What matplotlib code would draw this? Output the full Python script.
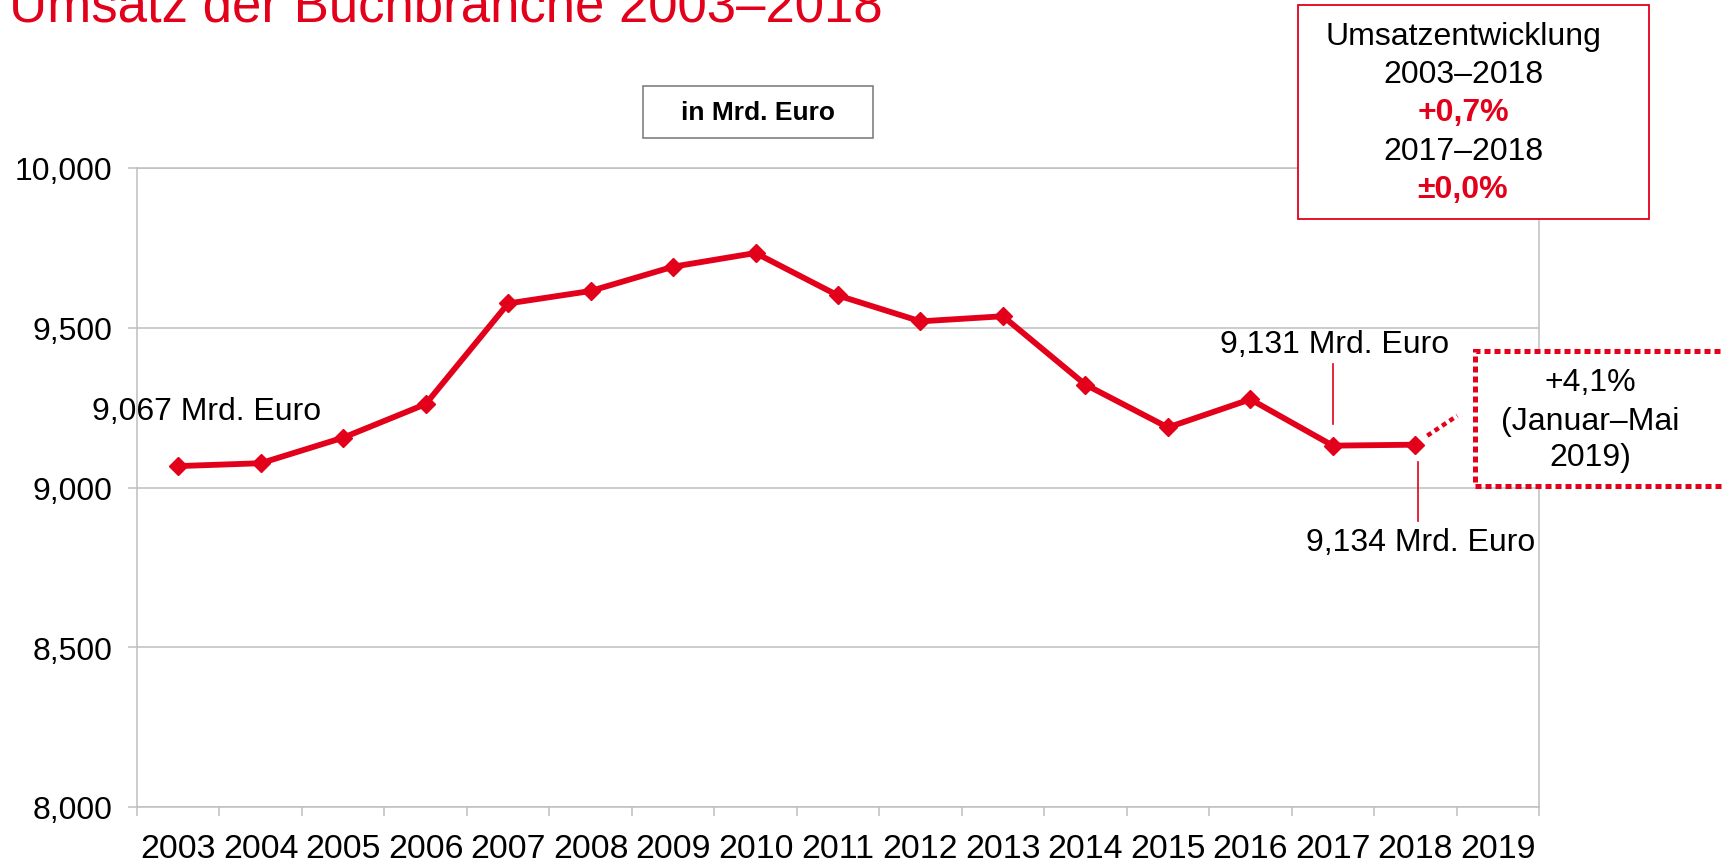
import matplotlib
matplotlib.use("Agg")
import matplotlib.pyplot as plt
from matplotlib.patches import Rectangle
import numpy as np

plt.rcParams['font.family'] = ['Liberation Sans', 'DejaVu Sans']

years = ["2003", "2004", "2005", "2006", "2007", "2008", "2009", "2010", "2011",
         "2012", "2013", "2014", "2015", "2016", "2017", "2018", "2019"]
umsatz = [9.067, 9.076, 9.156, 9.261, 9.576, 9.615, 9.691, 9.734, 9.601,
          9.520, 9.536, 9.322, 9.188, 9.276, 9.131, 9.134]
yticks = [8.0, 8.5, 9.0, 9.5, 10.0]

RED = "#E2001A"
GRID = "#BFBFBF"
W, H = 1722, 862
DPI = 100
FS = 23

fig = plt.figure(figsize=(W / DPI, H / DPI), dpi=DPI)
ax = fig.add_axes([137 / W, 1 - 808 / H, (1539 - 137) / W, (808 - 169) / H])

n = len(years)
x = np.arange(len(umsatz))
ax.plot(x, umsatz, color=RED, lw=4.2, marker="D", ms=9.5, zorder=5, clip_on=False)

ax.set_xlim(-0.5, n - 0.5)
ax.set_ylim(yticks[0], yticks[-1])

# y axis
ax.set_yticks(yticks)
ax.set_yticklabels([f"{v:.3f}".replace(".", ",") for v in yticks], fontsize=FS)
ax.yaxis.grid(True, color=GRID, lw=1.1)
ax.tick_params(axis="y", length=6.5, width=1.1, color=GRID, pad=11)

# x axis: ticks between categories, labels centered
ax.set_xticks(np.arange(-0.5, n, 1.0))
ax.set_xticklabels([])
ax.set_xticks(np.arange(n), minor=True)
ax.set_xticklabels(years, minor=True, fontsize=24.4)
ax.tick_params(axis="x", which="major", length=6.5, width=1.1, color=GRID)
ax.tick_params(axis="x", which="minor", length=0, pad=19)

for s in ["left", "bottom", "right", "top"]:
    ax.spines[s].set_color(GRID)
    ax.spines[s].set_linewidth(1.1)
ax.set_axisbelow(True)


def fmt(v):
    return f"{v:.3f}".replace(".", ",") + " Mrd. Euro"


def offset_line(ix, iy, dx, dy, **kw):
    base = ax.transData.transform((ix, iy))
    inv = ax.transData.inverted()
    pts = inv.transform(np.column_stack([base[0] + np.array(dx), base[1] + np.array(dy)]))
    ax.plot(pts[:, 0], pts[:, 1], clip_on=False, **kw)


# annotations
ax.annotate(fmt(umsatz[0]), xy=(0, umsatz[0]), xytext=(28, 55),
            textcoords="offset pixels", ha="center", va="center", fontsize=FS)

i17 = years.index("2017")
ax.annotate(fmt(umsatz[i17]), xy=(i17, umsatz[i17]), xytext=(2, 102),
            textcoords="offset pixels", ha="center", va="center", fontsize=FS)

i18 = years.index("2018")
ax.annotate(fmt(umsatz[i18]), xy=(i18, umsatz[i18]), xytext=(5, -97),
            textcoords="offset pixels", ha="center", va="center", fontsize=FS)

# leader lines
offset_line(i17, umsatz[i17], [0, 0], [22, 82], color=RED, lw=1.2, zorder=4)
offset_line(i18, umsatz[i18], [3, 3], [-17, -76], color=RED, lw=1.2, zorder=4)
# dotted extension toward 2019
offset_line(i18, umsatz[i18], [12, 42], [9, 29], color=RED, lw=3.2,
            ls=(0, (1.1, 0.9)), zorder=4)


def fig_rect(x0, y0, x1, y1, **kw):
    r = Rectangle((x0 / W, 1 - y1 / H), (x1 - x0) / W, (y1 - y0) / H,
                  transform=fig.transFigure, **kw)
    fig.add_artist(r)


# title (cut off at the top as in the original)
fig.text(9 / W, 1 - 22 / H, "Umsatz der Buchbranche 2003\u20132018", color=RED,
         fontsize=38, ha="left", va="baseline")

# unit box
fig_rect(643, 87, 873, 139, facecolor="white", edgecolor="#808080", lw=1.2, zorder=10)
fig.text(758 / W, 1 - 113 / H, "in Mrd. Euro", fontsize=19, fontweight="bold",
         ha="center", va="center", zorder=11)

# Umsatzentwicklung box
fig_rect(1298, 6, 1649, 220, facecolor="white", edgecolor=RED, lw=1.3, zorder=10)
lines = [("Umsatzentwicklung", "black", "normal", 37),
         ("2003\u20132018", "black", "normal", 75),
         ("+0,7%", RED, "bold", 113),
         ("2017\u20132018", "black", "normal", 152),
         ("\u00b10,0%", RED, "bold", 190)]
for txt, c, w, yy in lines:
    fig.text(1463 / W, 1 - yy / H, txt, color=c, fontweight=w, fontsize=FS,
             ha="center", va="center", zorder=11)

# dotted forecast box
fig_rect(1475, 352, 1740, 487, facecolor="white", edgecolor=RED, lw=3.6,
         ls=(0, (1.2, 0.8)), zorder=10)
for txt, yy in [("+4,1%", 383), ("(Januar\u2013Mai", 422), ("2019)", 458)]:
    fig.text(1590 / W, 1 - yy / H, txt, fontsize=FS, ha="center", va="center", zorder=11)

fig.savefig("out.png", dpi=DPI)
